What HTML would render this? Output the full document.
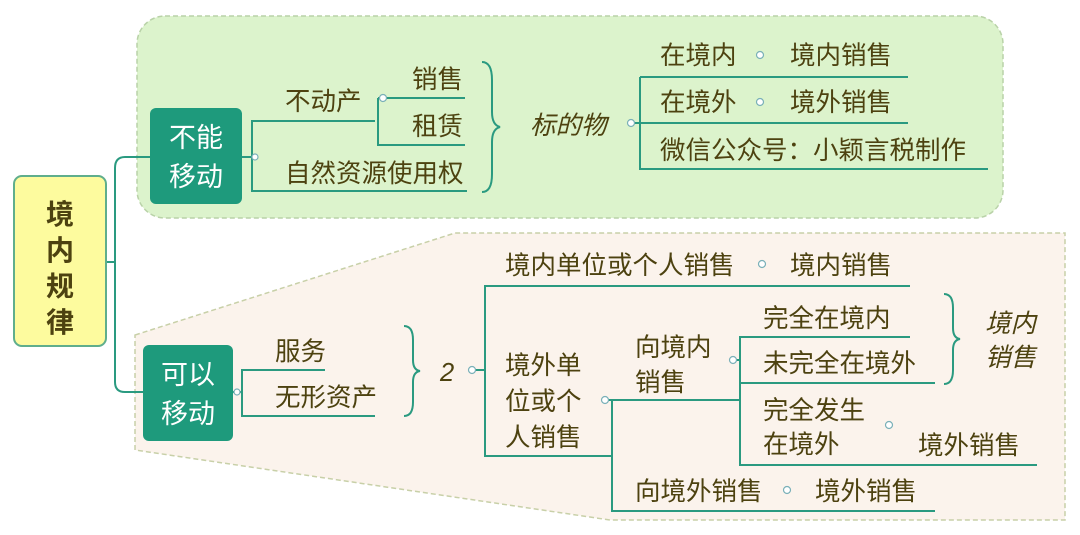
<!DOCTYPE html>
<html><head><meta charset="utf-8"><style>
body{margin:0;background:#fff;}
svg{display:block;font-family:"Liberation Sans","Noto Sans CJK SC",sans-serif;}
.t{font-size:25.5px;fill:#4d4210;}
.w{font-size:27px;fill:#fff;}
.i{font-style:italic;}
</style></head><body>
<svg width="1080" height="535" viewBox="0 0 1080 535">
<rect x="137" y="16" width="866" height="202" rx="28" fill="#dcf3cc" stroke="#b9d2a8" stroke-width="1.5" stroke-dasharray="5,3"/>
<polygon points="135,335 455,233 1065,233 1065,520 610,520 135,450" fill="#fbf3ec" stroke="#c8d0a8" stroke-width="1.5" stroke-dasharray="5,3"/>

<g fill="none" stroke="#2a9a80" stroke-width="2">
<path d="M106 262 H115 M115 168 V382 Q115 392 125 392 H143 M115 168 Q115 157 125 157 H150"/>
<path d="M241 157 H252 M375 121 H252 V191 H467"/>
<path d="M378 98 H465 M378 98 V145 H465"/>
<path d="M640 77 H908 M640 77 V169 H988 M631 123 H908"/>
<path d="M232 392 H242 M325 370 H242 V416 H375"/>
<path d="M472 370 H485 M910 286 H485 V456 H612 M605 400 H740 M612 400 V511 H935"/>
<path d="M733 360 H740 M910 337 H740 V465 H1037 M740 383 H935"/>
<path d="M482 62 Q492 62 492 80 V112 Q492 125 500 127 Q492 129 492 142 V174 Q492 192 482 192"/>
<path d="M404 326 Q413 326 413 340 V360 Q413 370 420 371 Q413 372 413 382 V402 Q413 416 404 416"/>
<path d="M944 294 Q953 294 953 308 V328 Q953 338 960 339 Q953 340 953 350 V370 Q953 384 944 384"/>
</g>
<g fill="#fff" stroke="#7ab0b8" stroke-width="1.2">
<circle cx="255" cy="157" r="3"/><circle cx="383" cy="98" r="3.5"/><circle cx="631" cy="123" r="3.5"/>
<circle cx="760" cy="55" r="3.5"/><circle cx="760" cy="102" r="3.5"/>
<circle cx="237" cy="392" r="3"/><circle cx="472" cy="370" r="3.5"/><circle cx="762" cy="264" r="3.5"/>
<circle cx="605" cy="400" r="3.5"/><circle cx="733" cy="360" r="3.5"/><circle cx="889" cy="425" r="3.5"/><circle cx="787" cy="490" r="3.5"/>
</g>

<rect x="14" y="176" width="92" height="170" rx="8" fill="#fdfb9e" stroke="#5fae8c" stroke-width="2"/>
<g font-size="28" font-weight="bold" fill="#4d4210" text-anchor="middle">
<text x="60" y="224">境</text><text x="60" y="260">内</text><text x="60" y="296">规</text><text x="60" y="332">律</text>
</g>
<rect x="150" y="108" width="92" height="96" rx="6" fill="#1e9a7c"/>
<text class="w" x="196" y="147" text-anchor="middle">不能</text>
<text class="w" x="196" y="186" text-anchor="middle">移动</text>
<rect x="143" y="345" width="90" height="96" rx="6" fill="#1e9a7c"/>
<text class="w" x="188" y="384" text-anchor="middle">可以</text>
<text class="w" x="188" y="423" text-anchor="middle">移动</text>

<g class="t">
<text x="285" y="110">不动产</text>
<text x="412" y="88">销售</text>
<text x="412" y="135">租赁</text>
<text x="285" y="182">自然资源使用权</text>
<text x="530" y="134" class="i">标的物</text>
<text x="660" y="64">在境内</text><text x="790" y="64">境内销售</text>
<text x="660" y="111">在境外</text><text x="790" y="111">境外销售</text>
<text x="660" y="159">微信公众号：小颖言税制作</text>
<text x="275" y="360">服务</text>
<text x="275" y="406">无形资产</text>
<text x="440" y="381" class="i">2</text>
<text x="505" y="274">境内单位或个人销售</text><text x="790" y="274">境内销售</text>
<text x="505" y="374">境外单</text><text x="505" y="410">位或个</text><text x="505" y="446">人销售</text>
<text x="635" y="356">向境内</text><text x="635" y="391">销售</text>
<text x="763" y="327">完全在境内</text>
<text x="763" y="372">未完全在境外</text>
<text x="763" y="419">完全发生</text><text x="763" y="453">在境外</text><text x="918" y="454">境外销售</text>
<text x="635" y="500">向境外销售</text><text x="815" y="500">境外销售</text>
<text x="985" y="332" class="i">境内</text><text x="985" y="366" class="i">销售</text>
</g>
</svg>
</body></html>
